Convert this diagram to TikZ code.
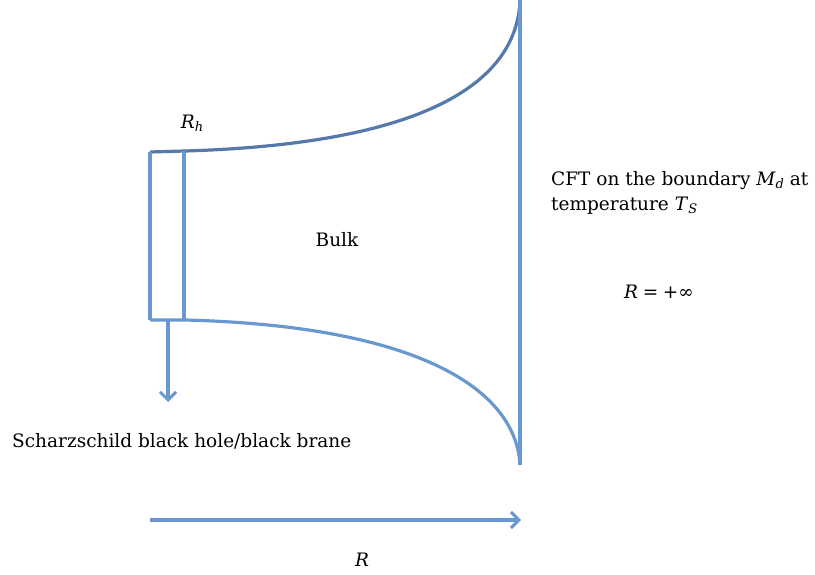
\documentclass[tikz,border=0pt]{standalone}
\usepackage{fontspec}
\setmainfont{DejaVu Serif}
\usetikzlibrary{arrows.meta}
\definecolor{lineblue}{RGB}{104,152,206}
\definecolor{darkblue}{RGB}{84,121,170}
\newcommand\varsub[2]{\textit{#1}\raisebox{-0.35ex}{\fontsize{13}{13}\selectfont\textit{#2}}}
\begin{document}
\begin{tikzpicture}[x=1pt,y=-1pt,
  ln/.style={draw=lineblue,line width=3.2pt},
  dk/.style={draw=darkblue,line width=3.2pt},
  arr/.style={ln,-{Straight Barb[length=8pt,width=16pt,line width=3pt]}},
  lbl/.style={inner sep=0pt,font=\fontsize{18.5}{25}\selectfont}]
\useasboundingbox (0,0) rectangle (815,575);
\coordinate (tl) at (150,152);
\coordinate (ti) at (185,151);
\coordinate (bl) at (150,320);
\coordinate (bi) at (185,320);
\coordinate (top) at (520,0);
\coordinate (bot) at (520,465);
\coordinate (as) at (168,320);
\coordinate (ae) at (168,402);
\coordinate (hs) at (150,520);
\coordinate (he) at (521,520);
\draw[dk] (tl) -- (ti) .. controls (420,144) and (517,85) .. (top);
\draw[ln] (bl) -- (bi) .. controls (420,326) and (516,390) .. (bot);
\draw[ln] (top) -- (bot);
\draw[ln] (tl) -- (bl);
\draw[ln] (184,151) -- (184,320);
\draw[arr] (as) -- (ae);
\draw[arr] (hs) -- (he);
\node[lbl] (rh) at (192,123) {\varsub{R}{h}};
\node[lbl] (bulk) at (337,240) {Bulk};
\node[lbl,anchor=west] (bh) at (12,441) {Scharzschild black hole/black brane};
\node[lbl,anchor=north west,align=left] (cft) at (551,171) {CFT on the boundary \varsub{M}{d} at\\temperature \varsub{T}{S}};
\node[lbl] (rinf) at (659,292) {\textit{R}\hspace{0.25em}=\hspace{0.25em}+∞};
\node[lbl] (r) at (362,560) {\textit{R}};
\end{tikzpicture}
\end{document}
